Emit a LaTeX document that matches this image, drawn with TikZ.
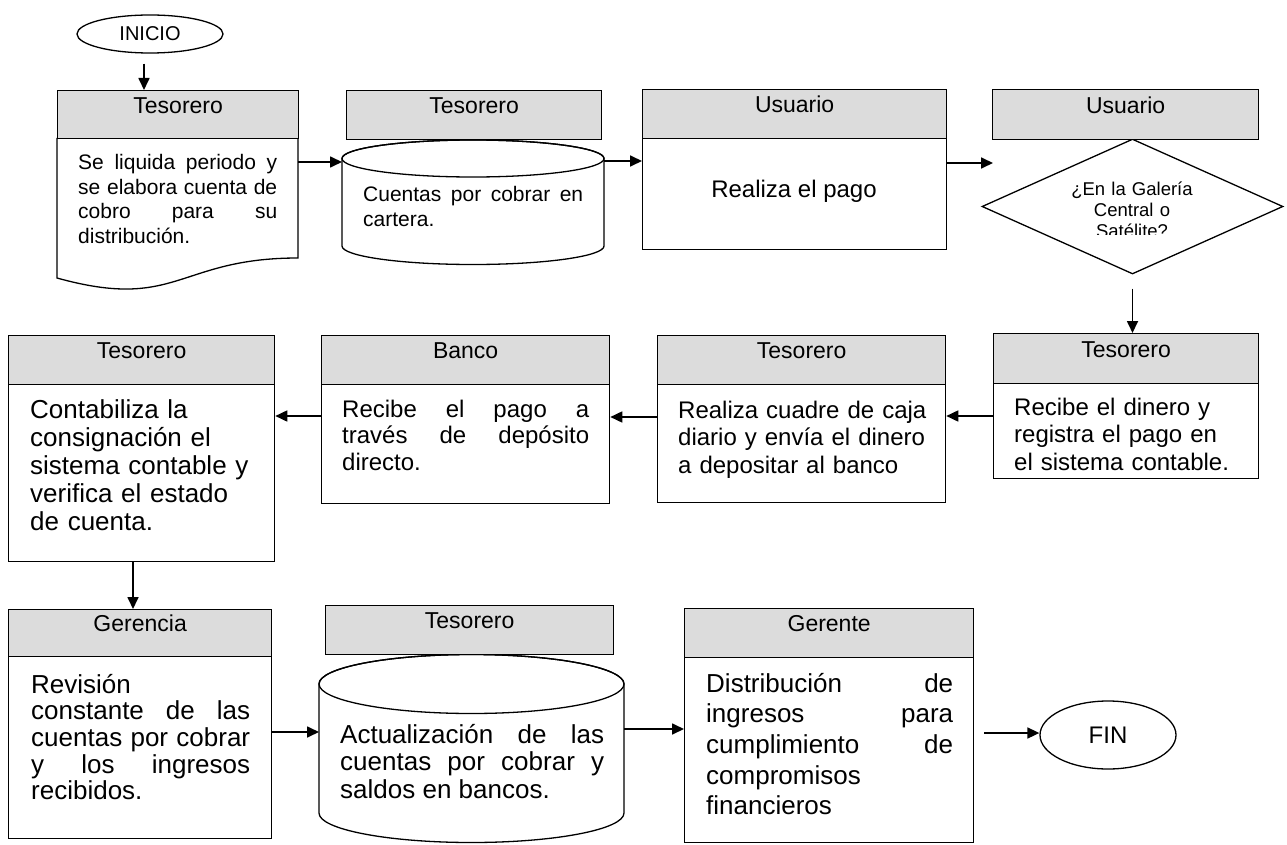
\documentclass[tikz,border=0pt]{standalone}
\usepackage{fontspec}
\setmainfont{Liberation Sans}
\usetikzlibrary{arrows.meta,shapes.geometric,calc}
\definecolor{hdrgray}{RGB}{220,220,220}
\tolerance=10000 \hbadness=10000 \vbadness=10000 \hyphenpenalty=10000
\begin{document}
\begin{tikzpicture}[x=1pt,y=-1pt,
  hdr/.style={draw, fill=hdrgray, line width=1.3pt, rectangle, inner sep=0pt, anchor=north west, font=\fontsize{23}{27}\selectfont, text height=16pt, text depth=19pt},
  bx/.style={draw, fill=white, line width=1.3pt, rectangle, inner sep=0pt, anchor=north west},
  area/.style={rectangle, inner sep=0pt, outer sep=0pt, anchor=north west},
  txt/.style={inner sep=0pt, anchor=base west, align=justify},
  arr/.style={line width=1.7pt, -{Triangle[length=12pt,width=11pt]}},
  ln/.style={line width=1.3pt}]
\fill[white] (0,0) rectangle (1287,845);
\useasboundingbox (0,0) rectangle (1287,845);

% ---- INICIO
\node[draw, ellipse, line width=1.3pt, minimum width=146pt, minimum height=38pt, inner sep=0pt, font=\fontsize{20}{24}\selectfont] (ini) at (150,34) {INICIO};
\coordinate (ax) at (144,0);

% ---- Box 1 (document)
\node[area, minimum width=241pt, minimum height=120pt] (b1b) at (57,138) {};
\draw[ln, fill=white] (57,138) -- (57,278) .. controls (177.5,311.5) and (177.5,258) .. (298,258) -- (298,138);
\node[hdr, minimum width=241pt, minimum height=48pt] (b1h) at (57,90) {Tesorero};
\node[txt, text width=199pt, font=\fontsize{21}{24.5}\selectfont] (b1t) at (78,170) {Se liquida periodo y\linebreak se elabora cuenta de\linebreak cobro para su\linebreak distribución.};
\draw[arr, shorten <=10pt] (ini.south -| ax) -- (b1h.north -| ax);

% ---- Cylinder 1
\node[area, minimum width=262pt, minimum height=124pt] (cyl1) at (342,140) {};
\draw[ln, fill=white] (342,158.5) -- (342,246) arc[start angle=180, end angle=360, x radius=131pt, y radius=18.5pt] -- (604,158.5) arc[start angle=0, end angle=180, x radius=131pt, y radius=18.5pt] -- cycle;
\draw[ln] (473,158.5) ellipse[x radius=131pt, y radius=18.5pt];
\node[hdr, minimum width=255pt, minimum height=49pt] (c1h) at (346,90) {Tesorero};
\node[txt, text width=220pt, font=\fontsize{21}{25}\selectfont] (c1t) at (363,201.7) {Cuentas por cobrar en\linebreak cartera.};
\coordinate (y1) at (0,162);
\draw[arr] (b1b.east |- y1) -- (cyl1.west |- y1);

% ---- Usuario 1
\node[bx, minimum width=304pt, minimum height=111pt] (u1b) at (642,138) {};
\node[hdr, minimum width=304pt, minimum height=49pt] (u1h) at (642,89) {Usuario};
\node[inner sep=0pt, anchor=base, font=\fontsize{24}{28}\selectfont] (u1t) at (794,197) {Realiza el pago};
\coordinate (y2) at (0,161);
\draw[arr] (cyl1.east |- y2) -- (u1b.west |- y2);
\coordinate (pa) at (993,163);
\draw[arr] (u1b.east |- pa) -- (pa);

% ---- Usuario 2 + decision
\node[diamond, draw, line width=1.3pt, fill=white, minimum width=301pt, minimum height=135pt, inner sep=0pt] (dec) at (1132.5,206.5) {};
\node[hdr, minimum width=266pt, minimum height=50pt] (u2h) at (992,89) {Usuario};
\begin{scope}
\clip (960,130) rectangle (1287,234.3);
\node[inner sep=0pt, anchor=base, text width=160pt, align=center, font=\fontsize{18.5}{20.8}\selectfont] (dect) at (1132,196) {¿En la Galería\\Central o\\Satélite?};
\end{scope}

% ---- Row 2 right: Tesorero
\node[bx, minimum width=265pt, minimum height=95pt] (t4b) at (993,383) {};
\node[hdr, minimum width=265pt, minimum height=50pt] (t4h) at (993,333) {Tesorero};
\node[txt, align=left, text width=235pt, font=\fontsize{24}{27.5}\selectfont] (t4t) at (1014,415) {Recibe el dinero y\\registra el pago en\\el sistema contable.};
\draw[arr, shorten <=14pt] (dec.south) -- (t4h.north -| dec.south);

% ---- Tesorero (cuadre)
\node[bx, minimum width=288pt, minimum height=118pt] (t3b) at (657,384) {};
\node[hdr, minimum width=288pt, minimum height=49pt] (t3h) at (657,335) {Tesorero};
\node[txt, align=left, text width=260pt, font=\fontsize{24}{27.5}\selectfont] (t3t) at (678,418) {Realiza cuadre de caja\\diario y envía el dinero\\a depositar al banco};
\coordinate (y3) at (0,416);
\draw[arr] (t4b.west |- y3) -- (t3b.east |- y3);

% ---- Banco
\node[bx, minimum width=288pt, minimum height=119pt] (bkb) at (321,384) {};
\node[hdr, minimum width=288pt, minimum height=49pt] (bkh) at (321,335) {Banco};
\node[txt, text width=247pt, font=\fontsize{24}{26.5}\selectfont] (bkt) at (342,417) {Recibe el pago a\linebreak través de depósito\linebreak directo.};
\coordinate (y4) at (0,417);
\draw[arr] (t3b.west |- y4) -- (bkb.east |- y4);

% ---- Tesorero (contabiliza)
\node[bx, minimum width=266pt, minimum height=177pt] (t1b) at (8,384) {};
\node[hdr, minimum width=266pt, minimum height=49pt] (t1h) at (8,335) {Tesorero};
\node[txt, align=left, text width=240pt, font=\fontsize{26}{28}\selectfont] (t1t) at (30,418) {Contabiliza la\\consignación el\\sistema contable y\\verifica el estado\\de cuenta.};
\coordinate (y5) at (0,416);
\draw[arr] (bkb.west |- y5) -- (t1b.east |- y5);

% ---- Gerencia
\node[bx, minimum width=263pt, minimum height=182pt] (g1b) at (8,656) {};
\node[hdr, minimum width=263pt, minimum height=47pt] (g1h) at (8,609) {Gerencia};
\node[txt, text width=219pt, font=\fontsize{26}{26.7}\selectfont] (g1t) at (31,693) {Revisión\linebreak constante de las\linebreak cuentas por cobrar\linebreak y los ingresos\linebreak recibidos.};
\coordinate (xa) at (133,0);
\draw[arr] (t1b.south -| xa) -- (g1h.north -| xa);

% ---- Cylinder 2
\node[area, minimum width=305pt, minimum height=188pt] (cyl2) at (319,654.5) {};
\draw[ln, fill=white] (319,684) -- (319,813) arc[start angle=180, end angle=360, x radius=152.5pt, y radius=29.5pt] -- (624,684) arc[start angle=0, end angle=180, x radius=152.5pt, y radius=29.5pt] -- cycle;
\draw[ln] (471.5,684) ellipse[x radius=152.5pt, y radius=29.5pt];
\node[hdr, minimum width=288pt, minimum height=49pt] (c2h) at (325,605) {Tesorero};
\node[txt, text width=264pt, font=\fontsize{26}{27.5}\selectfont] (c2t) at (340,743) {Actualización de las\linebreak cuentas por cobrar y\linebreak saldos en bancos.};
\coordinate (y6) at (0,732);
\draw[arr] (g1b.east |- y6) -- (cyl2.west |- y6);

% ---- Gerente
\node[bx, minimum width=289pt, minimum height=185pt] (gmb) at (684,657) {};
\node[hdr, minimum width=289pt, minimum height=49pt] (gmh) at (684,608) {Gerente};
\node[txt, text width=247pt, font=\fontsize{26}{30.7}\selectfont] (gmt) at (706,692) {Distribución de\linebreak ingresos para\linebreak cumplimiento de\linebreak compromisos\linebreak financieros};
\coordinate (y7) at (0,729);
\draw[arr] (cyl2.east |- y7) -- (gmb.west |- y7);

% ---- FIN
\node[draw, ellipse, line width=1.3pt, minimum width=136pt, minimum height=68pt, inner sep=0pt, font=\fontsize{24}{28}\selectfont] (fin) at (1108,735) {FIN};
\coordinate (y8) at (0,733);
\draw[arr, shorten <=10pt] (gmb.east |- y8) -- (fin.west |- y8);
\end{tikzpicture}
\end{document}
